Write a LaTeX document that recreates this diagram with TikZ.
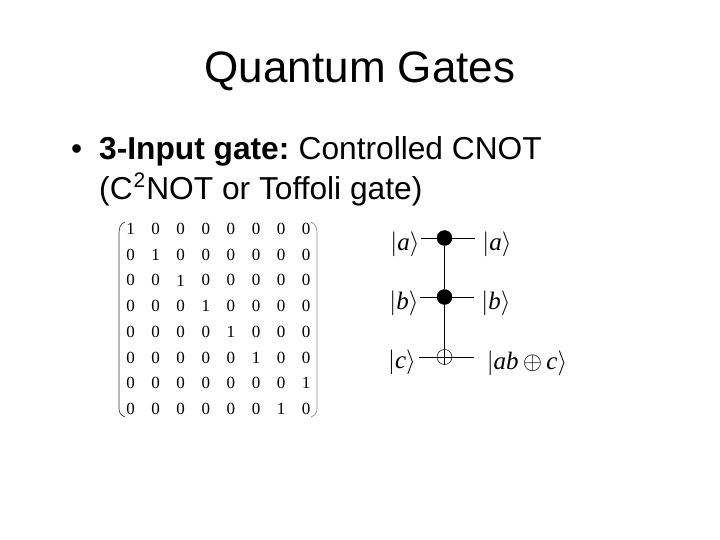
\documentclass[tikz,border=0pt]{standalone}
\usepackage{fontspec}
\setmainfont{Liberation Sans}
\newfontfamily\serifkets{Liberation Serif}
\usetikzlibrary{positioning}
\newcommand{\qket}[1]{{\serifkets $|$\textit{#1}$\rangle$}}

\begin{document}
\begin{tikzpicture}[x=1pt, y=-1pt,
  title/.style={font=\fontsize{44}{48}\selectfont},
  body/.style={font=\fontsize{31.7}{36}\selectfont, anchor=base west, inner sep=0pt},
  entry/.style={font=\serifkets\fontsize{17}{20}\selectfont, inner sep=0pt},
  lab/.style={font=\fontsize{25}{28}\selectfont, inner sep=0pt},
  wire/.style={line width=0.8pt},
  ctrl/.style={circle, fill=black, draw=black, minimum size=15pt, inner sep=0pt},
  targ/.style={circle, draw=black, line width=0.5pt, minimum size=15pt, inner sep=0pt}]
  \useasboundingbox (0,0) rectangle (720,540);
  \fill[white] (0,0) rectangle (720,540);

  \node[title] (ttl) at (360,71) {Quantum Gates};
  \node[body] (bul) at (71,160) {•};
  \node[body] (ln1) at (99,160) {\textbf{3-Input gate:}\hspace{-2.5pt} Controlled CNOT};
  \node[body] (ln2) at (99,200) {(C\hspace{1pt}\raisebox{0.4em}{\fontsize{21}{22}\selectfont 2}\hspace{1pt}NOT or Toffoli gate)\hspace{-1pt}};

  % unitary matrix
  \foreach \r/\one in {1/1,2/2,3/3,4/4,5/5,6/6,7/8,8/7} {
    \foreach \c in {1,...,8} {
      \ifnum\c=\one
        \node[entry] (m\r\c) at ({130.5+25.1*(\c-1)},{229+25.7*(\r-1)}) {1};
      \else
        \node[entry] (m\r\c) at ({130.5+25.1*(\c-1)},{229+25.7*(\r-1)}) {0};
      \fi
    }
  }
  \draw[line width=0.7pt, black!80] (125,222) .. controls (120,224) and (119,228) .. (119,234) -- (119,408) .. controls (119,412) and (120,415) .. (125,417);
  \draw[line width=0.7pt, black!45] (311,222) .. controls (316,224) and (317,228) .. (317,234) -- (317,408) .. controls (317,412) and (316,415) .. (311,417);

  % toffoli circuit
  \node[ctrl] (ca) at (444.5,238) {};
  \node[ctrl] (cb) at (444.5,297) {};
  \node[targ] (tc) at (444.5,357) {};
  \coordinate (ai) at (421,238);
  \coordinate (ao) at (475,238);
  \coordinate (bi) at (420,297);
  \coordinate (bo) at (474,297);
  \coordinate (ci) at (419,357);
  \coordinate (co) at (474,357);
  \node[lab] (ka) at (405,244) {\qket{a}};
  \node[lab] (kb) at (404,303) {\qket{b}};
  \node[lab] (kc) at (402,362) {\qket{c}};
  \node[lab] (ra) at (497,244) {\qket{a}};
  \node[lab] (rb) at (496,303) {\qket{b}};
  \node[lab] (rc) at (527,363) {\qket{ab\,$\oplus$\,c}};
  \draw[wire] (ai)--(ca);
  \draw[wire] (ca)--(ao);
  \draw[wire] (bi)--(cb);
  \draw[wire] (cb)--(bo);
  \draw[wire] (ci)--(tc);
  \draw[wire] (tc)--(co);
  \draw[wire] (ca)--(cb);
  \draw[wire] (cb)--(tc.south);
  \draw[wire, line width=0.5pt] (tc.west)--(tc.east);
\end{tikzpicture}
\end{document}
